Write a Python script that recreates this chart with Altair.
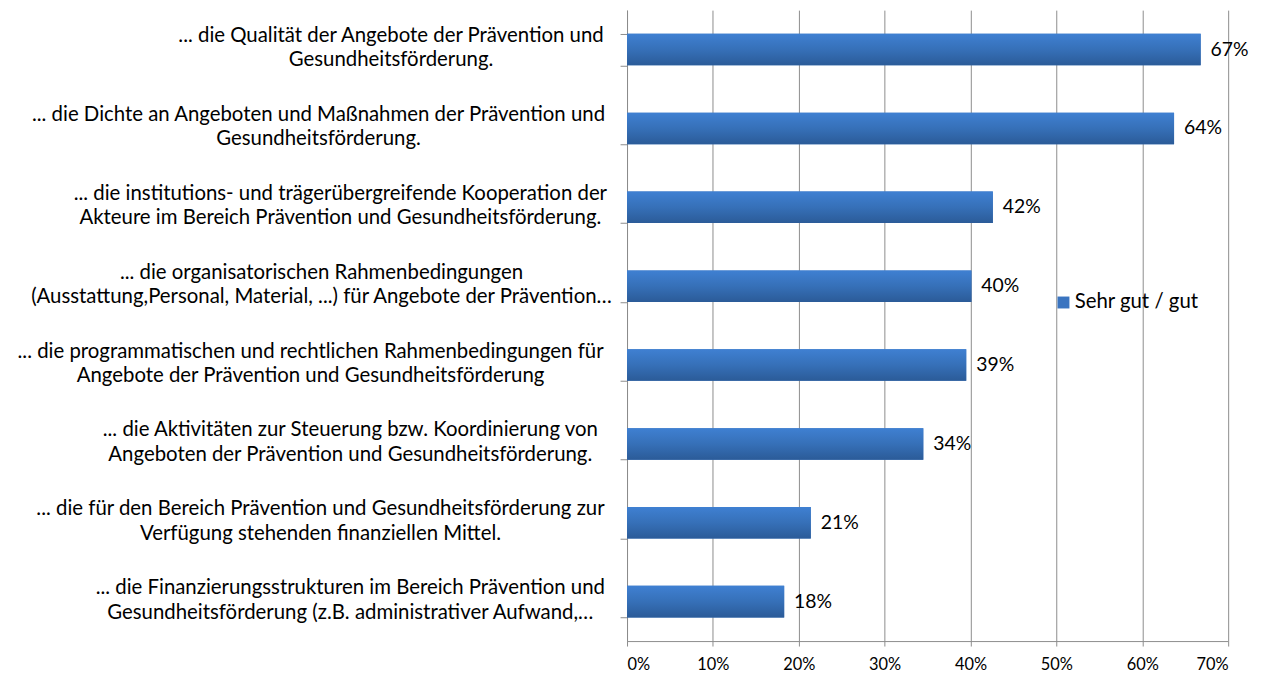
import altair as alt
import pandas as pd

categories = [
    "... die Qualität der Angebote der Prävention und|Gesundheitsförderung.",
    "... die Dichte an Angeboten und Maßnahmen der Prävention und|Gesundheitsförderung.",
    "... die institutions- und trägerübergreifende Kooperation der|Akteure im Bereich Prävention und Gesundheitsförderung.",
    "... die organisatorischen Rahmenbedingungen|(Ausstattung,Personal, Material, ...) für Angebote der Prävention…",
    "... die programmatischen und rechtlichen Rahmenbedingungen für|Angebote der Prävention und Gesundheitsförderung",
    "... die Aktivitäten zur Steuerung bzw. Koordinierung von|Angeboten der Prävention und Gesundheitsförderung.",
    "... die für den Bereich Prävention und Gesundheitsförderung zur|Verfügung stehenden finanziellen Mittel.",
    "... die Finanzierungsstrukturen im Bereich Prävention und|Gesundheitsförderung (z.B. administrativer Aufwand,…",
]
values = [66.8, 63.7, 42.6, 40.1, 39.5, 34.5, 21.4, 18.3]
value_labels = ["67%", "64%", "42%", "40%", "39%", "34%", "21%", "18%"]
series_name = "Sehr gut / gut"
x_ticks = [0, 10, 20, 30, 40, 50, 60, 70]

df = pd.DataFrame({"cat": categories, "val": values, "lab": value_labels,
                   "series": [series_name] * len(categories)})

# layout: horizontal centre (page px) of each label block
label_centers = [388, 315, 337, 318, 307, 347, 317, 347]
PLOT_LEFT = 626
TICK = 7
pad_conditions = [
    {"test": "datum.value == '%s'" % c, "value": (PLOT_LEFT - TICK) - cx}
    for c, cx in zip(categories, label_centers)
]

FONT = "Lato"
GRID = "#8C8C8C"

y_enc = alt.Y(
    "cat:N", sort=categories,
    scale=alt.Scale(paddingInner=0.6, paddingOuter=0.3),
    axis=alt.Axis(
        title=None, labelExpr="split(datum.label, '|')",
        labelAlign="center", labelBaseline="middle", labelLineHeight=24.5,
        labelOffset=-14,
        labelFont=FONT, labelFontSize=20.5, labelColor="black", labelLimit=900,
        tickBand="extent", tickSize=TICK, tickColor=GRID, domainColor=GRID,
        labelPadding={"condition": pad_conditions, "value": 10}, grid=False,
    ),
)
x_enc = alt.X(
    "val:Q", scale=alt.Scale(domain=[0, 70], nice=False),
    axis=alt.Axis(
        values=x_ticks, labelExpr="datum.value + '%'", title=None, grid=True,
        gridColor=GRID, domainColor=GRID, tickColor=GRID, tickSize=5,
        labelFontSize=16.5, labelPadding=11, labelFont=FONT, labelColor="black",
    ),
)

base = alt.Chart(df)

legend_bars = base.mark_bar().encode(
    x=x_enc, y=y_enc,
    color=alt.Color("series:N", scale=alt.Scale(range=["#3A74C0"]),
                    legend=alt.Legend(title=None, orient="none", legendX=429, legendY=284,
                                      symbolType="square", symbolSize=144,
                                      labelFontSize=20.5, labelFont=FONT, labelColor="black",
                                      labelOffset=1, padding=0, symbolStrokeWidth=0)),
)

grad = alt.Gradient(
    gradient="linear",
    stops=[alt.GradientStop(color="#3F80D2", offset=0),
           alt.GradientStop(color="#3670B8", offset=0.5),
           alt.GradientStop(color="#2B5B98", offset=1)],
    x1=0, x2=0, y1=0, y2=1,
)
grad_bars = base.mark_bar(color=grad).encode(x="val:Q", y=alt.Y("cat:N", sort=categories))

texts = base.mark_text(align="left", baseline="middle", dx=10, font=FONT,
                       fontSize=19.5, color="black").encode(
    x="val:Q", y=alt.Y("cat:N", sort=categories), text="lab:N")

chart = alt.layer(legend_bars, grad_bars, texts).properties(
    width=605, height=635,
    autosize=alt.AutoSizeParams(type="none"),
    padding={"left": 623, "top": 0, "right": 25, "bottom": 32},
    background="white",
).configure_view(stroke=None)

chart.save("out.html", embed_options={"renderer": "svg", "actions": False})
